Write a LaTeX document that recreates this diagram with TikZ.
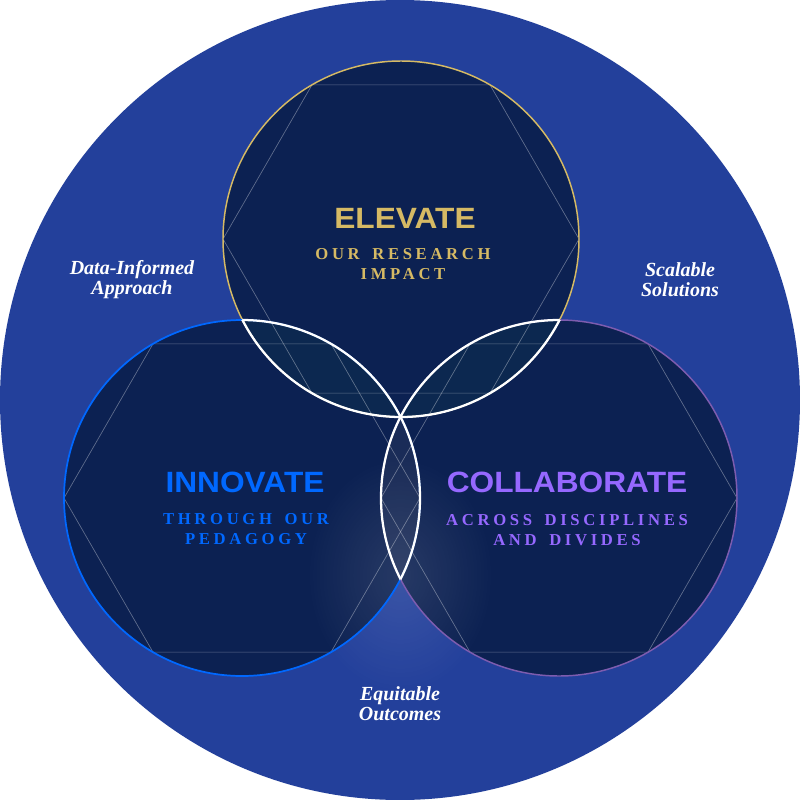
\documentclass[tikz,border=0pt]{standalone}
\usepackage{fontspec}
\usepackage{tikz}
\usetikzlibrary{positioning,fadings}

\newfontfamily\headfont{Liberation Sans}
\newfontfamily\subfont[LetterSpace=22,WordSpace=1.6]{Liberation Serif}
\newfontfamily\notefont{Liberation Serif}

\definecolor{bigblue}{RGB}{35,64,155}
\definecolor{navy}{RGB}{12,33,82}
\definecolor{lensnavy}{RGB}{12,40,80}
\definecolor{midlens}{RGB}{26,44,88}
\definecolor{gold}{RGB}{214,186,100}
\definecolor{innoblue}{RGB}{0,104,255}
\definecolor{collabpurple}{RGB}{150,104,255}
\definecolor{ringpurple}{RGB}{125,92,175}

\tikzfading[name=glowfade, inner color=transparent!30, outer color=transparent!100]

\tikzset{
  disc/.style={fill=navy},
  hexline/.style={draw=white, draw opacity=0.35, line width=0.5pt},
  lensline/.style={draw=white, line width=1.7pt},
  title/.style={font=\headfont\bfseries\fontsize{22}{24}\selectfont, xscale=1.08},
  subtitle/.style={font=\subfont\bfseries\fontsize{12.5}{15.5}\selectfont, align=center},
  note/.style={font=\notefont\bfseries\itshape\fontsize{15}{15}\selectfont, align=center, text=white}
}

\begin{document}
\begin{tikzpicture}[x=0.75pt,y=0.75pt,yscale=-1,xscale=1]
        \useasboundingbox (0,0) rectangle (800,800);
        \fill[white] (0,0) rectangle (800,800);

        %Shape: Circle [outer]
        \fill[bigblue] (400,400) circle (400);

        \coordinate (T) at (401,239);
        \coordinate (L) at (242,498);
        \coordinate (R) at (559,498);

        %Shape: Circle [top, left, right]
        \fill[disc] (T) circle (178);
        \fill[disc] (L) circle (178);
        \fill[disc] (R) circle (178);

        %Shape: Lens fills
        \begin{scope}
          \clip (T) circle (178);
          \fill[lensnavy] (L) circle (178);
          \fill[lensnavy] (R) circle (178);
        \end{scope}
        \begin{scope}
          \clip (L) circle (178);
          \fill[midlens] (R) circle (178);
        \end{scope}

        %Shape: glow under the middle
        \fill[white, path fading=glowfade, fill opacity=0.16] (400,575) ellipse (95 and 120);

        %Shape: Hexagons
        \foreach \c in {T,L,R} {
          \begin{scope}[shift={(\c)}]
            \draw[hexline] (0:178) -- (60:178) -- (120:178) -- (180:178) -- (240:178) -- (300:178) -- cycle;
          \end{scope}
        }

        %Shape: Circle outlines
        \draw[gold, line width=1.1pt] (T) circle (178);
        \draw[innoblue, line width=1.3pt] (L) circle (178);
        \draw[ringpurple, line width=1.1pt] (R) circle (178);

        %Shape: Lens outlines
        \begin{scope}
          \clip (T) circle (178);
          \draw[lensline] (L) circle (178);
          \draw[lensline] (R) circle (178);
        \end{scope}
        \begin{scope}
          \clip (L) circle (178);
          \draw[lensline] (T) circle (178);
          \draw[lensline] (R) circle (178);
        \end{scope}
        \begin{scope}
          \clip (R) circle (178);
          \draw[lensline] (T) circle (178);
          \draw[lensline] (L) circle (178);
        \end{scope}

        % Text Node
        \node[title, text=gold] (elevate) at (405,218) {ELEVATE};
        % Text Node
        \node[subtitle, text=gold] (elevatesub) at (403,264) {OUR RESEARCH\\IMPACT};
        % Text Node
        \node[title, text=innoblue] (innovate) at (245,482) {INNOVATE};
        % Text Node
        \node[subtitle, text=innoblue] (innovatesub) at (246,529) {THROUGH OUR\\PEDAGOGY};
        % Text Node
        \node[title, text=collabpurple] (collaborate) at (567,482) {COLLABORATE};
        % Text Node
        \node[subtitle, text=collabpurple] (collaboratesub) at (567,530) {ACROSS DISCIPLINES\\AND DIVIDES};

        % Text Node
        \node[note] (data) at (132,280) {Data-Informed\\Approach};
        % Text Node
        \node[note] (scalable) at (680,280) {Scalable\\Solutions};
        % Text Node
        \node[note] (equitable) at (400,704) {Equitable\\Outcomes};
\end{tikzpicture}
\end{document}
